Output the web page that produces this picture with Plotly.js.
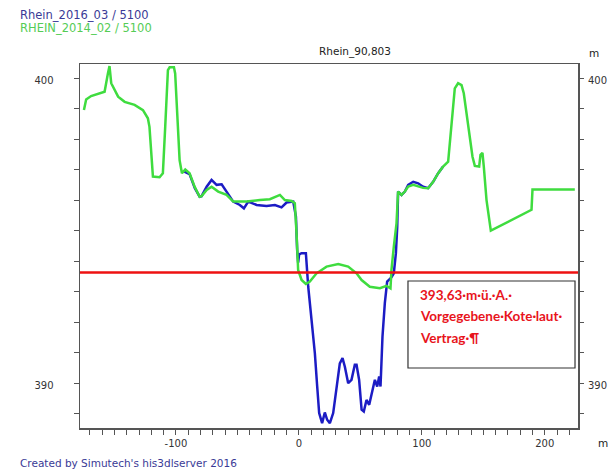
<!DOCTYPE html>
<html>
<head>
<meta charset="utf-8">
<script src="https://cdn.plot.ly/plotly-3.0.1.min.js"></script>
<style>
  html, body { margin: 0; padding: 0; background: #fff; }
  #chart { width: 612px; height: 471px; }
</style>
</head>
<body>
<div id="chart"></div>
<script>
// ---- Data ----
const seriesNames = ["Rhein_2016_03 / 5100", "RHEIN_2014_02 / 5100"];
const chartTitle = "Rhein_90,803";

// RHEIN_2014_02 (green)
const xGreen = [-174.8, -173, -169, -160.7, -158, -155.3, -154, -152.6, -147, -141.7,
  -133.6, -126.8, -122.8, -121.5, -119.5, -118.7, -113.3, -110.6, -108.7, -106.5,
  -105.1, -101.6, -100.6, -98.4, -97, -95.1, -92.4, -88.9, -84.8, -80.7,
  -79.1, -75, -71, -65.6, -58.8, -53.4, -42.5, -31.7, -23.6, -15.4,
  -11.4, -5.9, -3.3, -1.9, -0.6, 2.2, 5.7, 8.9, 14.4, 22.5,
  32, 40.1, 46.9, 51, 57.7, 65.9, 71.3, 74.5, 75.3, 77.2,
  79.4, 80.7, 83.5, 86.2, 88.9, 93, 97, 101, 105.1, 109.2,
  113.3, 117.3, 121.4, 122.8, 124.9, 126.8, 129.5, 132.3, 134.1, 136.3,
  139, 141.2, 143.1, 146.6, 147.7, 149.3, 150.4, 152.6, 156.1, 189.2,
  190, 224.4];
const yGreen = [398.95, 399.3, 399.41, 399.5, 399.55, 400.15, 400.39, 399.83, 399.39, 399.22,
  399.12, 398.95, 398.68, 398.4, 397.31, 396.77, 396.75, 396.88, 398.4, 400.26,
  400.35, 400.35, 400.15, 398.4, 397.31, 396.88, 397.0, 396.88, 396.44, 396.11,
  396.13, 396.33, 396.44, 396.28, 396.17, 395.95, 395.95, 396.0, 396.03, 396.17,
  396.0, 395.97, 395.9, 394.91, 393.71, 393.38, 393.25, 393.33, 393.6, 393.82,
  393.9, 393.82, 393.6, 393.38, 393.16, 393.11, 393.19, 393.11, 393.71, 394.47,
  395.24, 396.28, 396.17, 396.28, 396.44, 396.5, 396.45, 396.4, 396.39, 396.6,
  396.88, 397.1, 397.26, 397.86, 398.95, 399.66, 399.83, 399.77, 399.5, 398.84,
  398.08, 397.42, 397.12, 397.1, 397.48, 397.55, 397.1, 396.0, 395.0, 395.68,
  396.35, 396.35];

// Rhein_2016_03 (blue)
const xBlue = [-94, -88.9, -84.6, -80.7, -79.1, -75, -71, -66.9, -62.8, -58.8,
  -53.4, -48, -44.7, -41.2, -34.4, -26.3, -19.5, -14.1, -10, -4.6,
  -2.4, -1.4, -0.6, 0.2, 2.2, 5.7, 6.3, 7.6, 10.3, 13,
  14.9, 16.5, 18.9, 21.1, 23, 25.2, 27.9, 30.6, 33.3, 35.5,
  37.4, 40.1, 42.8, 45.5, 46.9, 49, 51, 52.8, 55, 57.2,
  59.1, 61.8, 63.7, 65.3, 66.4, 68, 69.9, 71.8, 75.3, 77.2,
  78.9, 80, 80.7, 83.5, 86.2, 88.9, 93, 97, 101, 105.1,
  109.2, 113.3, 117.3];
const yBlue = [396.95, 396.85, 396.39, 396.11, 396.13, 396.44, 396.66, 396.5, 396.52, 396.28,
  395.95, 395.84, 395.73, 395.95, 395.84, 395.81, 395.84, 395.76, 395.92, 395.95,
  395.46, 394.37, 393.95, 394.22, 394.26, 394.26, 393.82, 393.16, 392.07, 390.98,
  389.89, 389.02, 388.69, 389.04, 388.8, 388.69, 389.02, 389.89, 390.65, 390.82,
  390.54, 390.0, 390.11, 390.6, 390.6, 390.11, 389.13, 389.07, 389.45, 389.29,
  389.67, 390.11, 389.89, 390.22, 389.89, 391.53, 392.62, 393.33, 393.47, 393.6,
  394.26, 395.13, 396.28, 396.17, 396.28, 396.5, 396.6, 396.55, 396.44, 396.39,
  396.6, 396.88, 397.1];

// Reference level (red line) and its note
const refLevel = 393.63;
const noteLines = ["393,63·m·ü.·A.·", "Vorgegebene·Kote·laut·", "Vertrag·¶"];
const creditText = "Created by Simutech's his3dlserver 2016";
const unitText = "m";

// Tick positions and labels
const xTickVals = [-170, -160, -150, -140, -130, -120, -110, -100, -90, -80, -70, -60, -50, -40,
  -30, -20, -10, 0, 10, 20, 30, 40, 50, 60, 70, 80, 90, 100, 110, 120, 130, 140, 150,
  160, 170, 180, 190, 200, 210, 220];
const xLabeled = [-100, 0, 100, 200];
const yTickVals = [389, 390, 391, 392, 393, 394, 395, 396, 397, 398, 399, 400];
const yLabeled = [390, 400];
const xTickText = xTickVals.map(v => xLabeled.includes(v) ? String(v) : "");
const yTickText = yTickVals.map(v => yLabeled.includes(v) ? String(v) : "");

// ---- Styles ----
const blue = "#1c1cc4";
const green = "#3fdc3f";
const red = "#ee1111";
const axisColor = "#555555";
const font = "DejaVu Sans, Verdana, sans-serif";
const noteFont = { family: "Lato, sans-serif", size: 13.5, color: "#e8141c", weight: "bold" };

const traces = [
  { x: xBlue, y: yBlue, type: "scatter", mode: "lines", name: seriesNames[0],
    line: { color: blue, width: 2.5 }, hoverinfo: "x+y" },
  { x: xGreen, y: yGreen, type: "scatter", mode: "lines", name: seriesNames[1],
    line: { color: green, width: 2.5 }, hoverinfo: "x+y" },
  // carries the right-hand value axis (no visible line)
  { x: xGreen, y: yGreen, type: "scatter", mode: "lines", yaxis: "y2",
    line: { color: "rgba(0,0,0,0)", width: 0 }, hoverinfo: "skip", showlegend: false }
];

const yRange = [388.53, 400.46];
const yAxisCommon = {
  range: yRange, tickmode: "array", tickvals: yTickVals, ticktext: yTickText,
  ticks: "outside", ticklen: 5, tickwidth: 1, tickcolor: axisColor,
  showgrid: false, zeroline: false, ticklabelshift: 2,
  tickfont: { family: font, size: 10, color: "#333" }
};

const layout = {
  width: 612, height: 471,
  margin: { l: 80, r: 34, t: 64, b: 43 },
  paper_bgcolor: "#fff", plot_bgcolor: "#fff",
  showlegend: false,
  xaxis: {
    range: [-178, 227], tickmode: "array", tickvals: xTickVals, ticktext: xTickText,
    ticks: "outside", ticklen: 5, tickwidth: 1, tickcolor: axisColor,
    showline: true, linecolor: axisColor, linewidth: 1.5, mirror: true,
    showgrid: false, zeroline: false,
    tickfont: { family: font, size: 10, color: "#333" }
  },
  yaxis: Object.assign({}, yAxisCommon, {
    showline: true, linecolor: axisColor, linewidth: 1.5, mirror: true,
    ticklabelstandoff: 18
  }),
  yaxis2: Object.assign({}, yAxisCommon, {
    overlaying: "y", side: "right", showline: false, ticklabelstandoff: 2
  }),
  shapes: [
    { type: "line", xref: "paper", yref: "y", x0: 0, x1: 1, y0: refLevel, y1: refLevel,
      line: { color: red, width: 2.5 }, layer: "above" },
    { type: "rect", xref: "paper", yref: "paper", x0: 0.6586, x1: 0.994, y0: 0.1648, y1: 0.4038,
      line: { color: "#333", width: 1.2 }, fillcolor: "#fff", layer: "above" }
  ],
  annotations: [
    { text: seriesNames[0], xref: "paper", yref: "paper", x: -0.125, y: 1.1346,
      xanchor: "left", yanchor: "middle", showarrow: false,
      font: { family: font, size: 11.5, color: "#3a3a96" } },
    { text: seriesNames[1], xref: "paper", yref: "paper", x: -0.125, y: 1.099,
      xanchor: "left", yanchor: "middle", showarrow: false,
      font: { family: font, size: 11.5, color: "#55cc55" } },
    { text: chartTitle, xref: "paper", yref: "paper", x: 0.552, y: 1.033,
      xanchor: "center", yanchor: "middle", showarrow: false,
      font: { family: font, size: 10.5, color: "#222" } },
    { text: unitText, xref: "paper", yref: "paper", x: 1.032, y: 1.030,
      xanchor: "center", yanchor: "middle", showarrow: false,
      font: { family: font, size: 10.5, color: "#222" } },
    { text: unitText, xref: "paper", yref: "paper", x: 1.05, y: -0.04,
      xanchor: "center", yanchor: "middle", showarrow: false,
      font: { family: font, size: 10.5, color: "#222" } },
    { text: creditText, xref: "paper", yref: "paper", x: -0.125, y: -0.096,
      xanchor: "left", yanchor: "middle", showarrow: false,
      font: { family: font, size: 10.5, color: "#3a3a96" } },
    { text: noteLines[0], xref: "paper", yref: "paper", x: 0.679, y: 0.3654,
      xanchor: "left", yanchor: "middle", showarrow: false, font: noteFont },
    { text: noteLines[1], xref: "paper", yref: "paper", x: 0.679, y: 0.3077,
      xanchor: "left", yanchor: "middle", showarrow: false, font: noteFont },
    { text: noteLines[2], xref: "paper", yref: "paper", x: 0.679, y: 0.2486,
      xanchor: "left", yanchor: "middle", showarrow: false, font: noteFont }
  ]
};

Plotly.newPlot("chart", traces, layout, { displayModeBar: false, staticPlot: true });
</script>
</body>
</html>
